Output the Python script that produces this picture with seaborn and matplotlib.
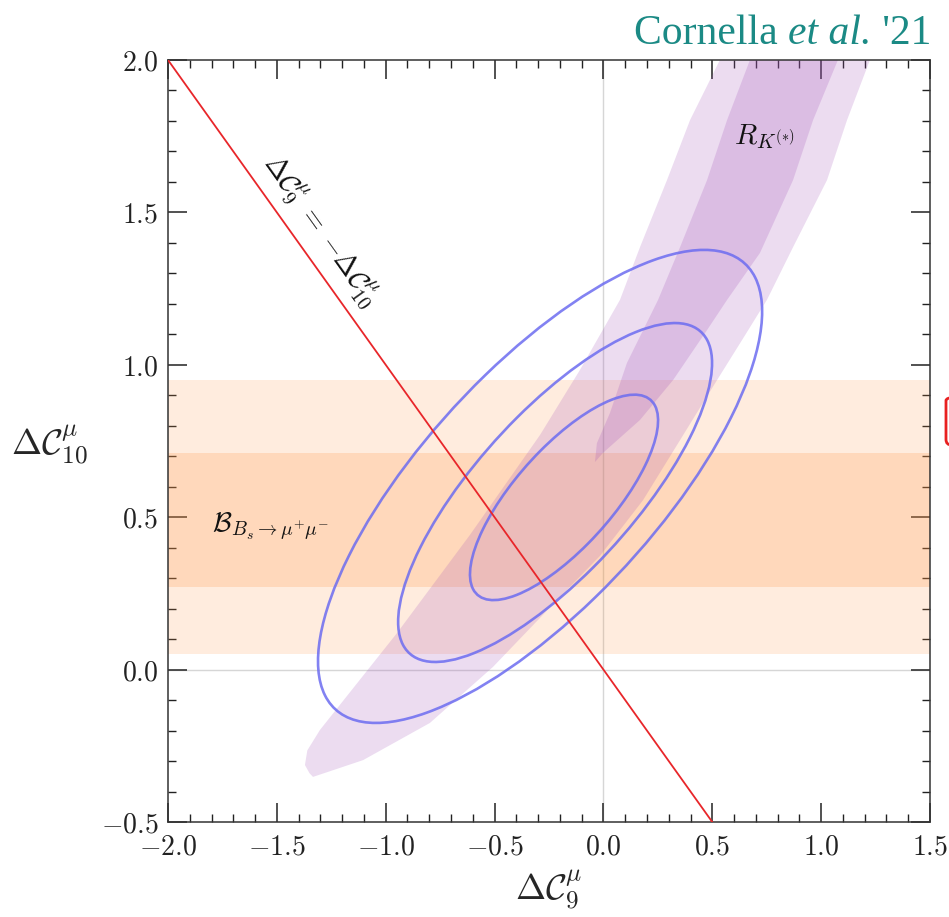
import numpy as np
import matplotlib.pyplot as plt
import seaborn as sns
from matplotlib.patches import Ellipse, FancyBboxPatch
from matplotlib.ticker import MultipleLocator, FuncFormatter

# B_s -> mu mu band (1 sigma / 2 sigma) in Delta C10
bs_inner = (0.27, 0.71)
bs_outer = (0.05, 0.95)

# R_K(*) band, outer (2 sigma) boundary
rk_out_left_x = [0.535, 0.398, 0.292, 0.168, 0.076, -0.108, -0.291, -0.613, -0.948, -1.302, -1.360, -1.371]
rk_out_left_y = [2.0, 1.803, 1.606, 1.386, 1.213, 0.983, 0.770, 0.442, 0.120, -0.198, -0.265, -0.313]
rk_out_right_x = [-1.350, -1.334, -1.104, -0.797, -0.507, -0.213, -0.016, 0.182, 0.352, 0.522, 0.640, 0.751, 0.871, 1.027, 1.119, 1.224]
rk_out_right_y = [-0.340, -0.352, -0.297, -0.175, 0.009, 0.228, 0.373, 0.556, 0.753, 0.950, 1.085, 1.213, 1.386, 1.606, 1.803, 2.0]

# R_K(*) band, inner (1 sigma) boundary
rk_in_left_x = [0.673, 0.568, 0.476, 0.352, 0.251, 0.108, 0.030, -0.030, -0.039]
rk_in_left_y = [2.0, 1.803, 1.606, 1.386, 1.213, 1.006, 0.842, 0.743, 0.681]
rk_in_right_x = [-0.002, 0.168, 0.320, 0.476, 0.568, 0.719, 0.871, 0.963, 1.077]
rk_in_right_y = [0.711, 0.819, 0.950, 1.114, 1.213, 1.367, 1.606, 1.803, 2.0]

# global fit contours (1, 2, 3 sigma)
ell_cx = [-0.181, -0.222, -0.291]
ell_cy = [0.565, 0.581, 0.601]
ell_sx = [0.432, 0.721, 1.020]
ell_sy = [0.337, 0.556, 0.776]
ell_rho = [0.749, 0.763, 0.739]

# Delta C9 = -Delta C10 line
diag_x = [-2.0, 0.5]
diag_y = [2.0, -0.5]

sns.set_theme(style="ticks")
plt.rcParams['mathtext.fontset'] = 'cm'
plt.rcParams['font.family'] = ['DejaVu Serif']

fig = plt.figure(figsize=(9.49, 9.17), dpi=100)
ax = fig.add_axes([168 / 949, 95 / 917, 762 / 949, 762 / 917])

# orange band
orange = '#ff9440'
ax.axhspan(*bs_outer, color=orange, alpha=0.17, lw=0, zorder=1)
ax.axhspan(*bs_inner, color=orange, alpha=0.22, lw=0, zorder=1)

# purple band
purple = '#a050b8'
ax.fill(rk_out_left_x + rk_out_right_x, rk_out_left_y + rk_out_right_y,
        color=purple, alpha=0.2, lw=0, zorder=2)
ax.fill(rk_in_left_x + rk_in_right_x, rk_in_left_y + rk_in_right_y,
        color=purple, alpha=0.22, lw=0, zorder=2)

# axis lines at zero
ax.axvline(0, color='#d6d6d6', lw=1.0, zorder=0.5)
ax.axhline(0, color='#d6d6d6', lw=1.0, zorder=0.5)

# fit ellipses
for cx, cy, sx, sy, rho in zip(ell_cx, ell_cy, ell_sx, ell_sy, ell_rho):
    cov = np.array([[sx ** 2, rho * sx * sy], [rho * sx * sy, sy ** 2]])
    vals, vecs = np.linalg.eigh(cov)
    ang = np.degrees(np.arctan2(vecs[1, 1], vecs[0, 1]))
    ax.add_patch(Ellipse((cx, cy), 2 * np.sqrt(vals[1]), 2 * np.sqrt(vals[0]), angle=ang,
                         fill=False, ec='#6c6cf0', lw=1.9, alpha=0.85, zorder=4))

sns.lineplot(x=diag_x, y=diag_y, ax=ax, color='#e8262a', lw=1.3, zorder=5)

ax.text(-1.30, 1.44, r'$\Delta\mathcal{C}_9^{\mu}\;=\;{-}\Delta\mathcal{C}_{10}^{\mu}$',
        rotation=-45, transform_rotates_text=True, rotation_mode='anchor',
        ha='center', va='center', fontsize=20, color='#111111')
ax.text(0.74, 1.75, r'$R_{K^{(*)}}$', ha='center', va='center', fontsize=21, color='#111111')
ax.text(-1.80, 0.47, r'$\mathcal{B}_{B_s\to\mu^{{+}}\mu^{{-}}}$', ha='left', va='center',
        fontsize=20, color='#111111')

ax.set_xlim(-2.0, 1.5)
ax.set_ylim(-0.5, 2.0)
ax.xaxis.set_major_locator(MultipleLocator(0.5))
ax.xaxis.set_minor_locator(MultipleLocator(0.1))
ax.yaxis.set_major_locator(MultipleLocator(0.5))
ax.yaxis.set_minor_locator(MultipleLocator(0.1))
fmt = FuncFormatter(lambda v, p: f'${v:.1f}$')
ax.xaxis.set_major_formatter(fmt)
ax.yaxis.set_major_formatter(fmt)
ax.tick_params(which='both', direction='in', top=True, right=True, colors='#222222')
ax.tick_params(which='major', length=14, width=1.1, labelsize=20)
ax.tick_params(axis='x', which='major', pad=8)
ax.tick_params(axis='y', which='major', pad=7)
ax.tick_params(which='minor', length=6, width=1.0)
for s in ax.spines.values():
    s.set_color('#333333')
    s.set_linewidth(1.1)

ax.set_xlabel(r'$\Delta\mathcal{C}_9^{\mu}$', fontsize=26, labelpad=6)
ax.set_ylabel(r'$\Delta\mathcal{C}_{10}^{\mu}$', fontsize=26, rotation=0, ha='center', va='center')
ax.yaxis.set_label_coords(-0.155, 0.495)

# title pieces
teal = '#1b8a85'
t1 = fig.text(634 / 949, 1 - 44 / 917, 'Cornella ', family='Liberation Serif', fontsize=30,
              color=teal, va='baseline')
a2 = ax.annotate('et al.', xy=(1, 0), xycoords=t1, va='bottom', ha='left',
                 family='Liberation Serif', style='italic', fontsize=30, color=teal,
                 annotation_clip=False)
ax.annotate(" '21", xy=(1, 0), xycoords=a2, va='bottom', ha='left',
            family='Liberation Serif', fontsize=30, color=teal, annotation_clip=False)

# cropped red frame at right edge
fig.patches.append(FancyBboxPatch((946 / 949, 472 / 917), 0.05, 50 / 917,
                                  boxstyle='round,pad=0,rounding_size=0.006',
                                  transform=fig.transFigure, fill=False, ec='#e82020', lw=2))

fig.savefig('out.png', dpi=100)
